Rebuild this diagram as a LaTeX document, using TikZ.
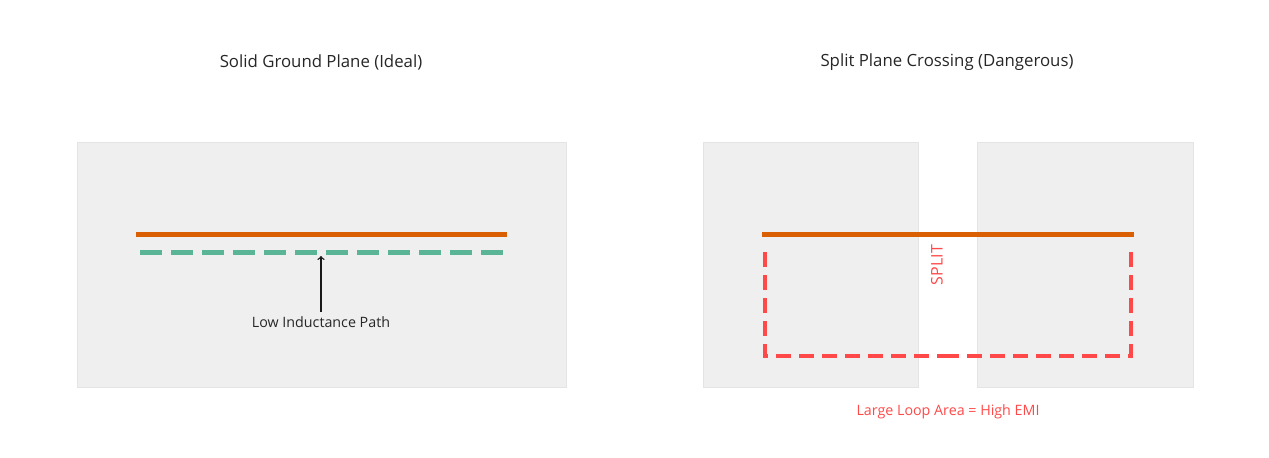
\documentclass[tikz,border=0pt]{standalone}
\usepackage{fontspec}
\setmainfont{Open Sans}
\usetikzlibrary{positioning}
\definecolor{planegray}{HTML}{EFEFEF}
\definecolor{planeedge}{HTML}{E4E4E4}
\definecolor{traceorange}{HTML}{D95F02}
\definecolor{returngreen}{HTML}{5AB596}
\definecolor{loopred}{HTML}{FF4848}
\tikzset{
  plane/.style={fill=planegray, draw=planeedge, line width=0.6pt},
  trace/.style={traceorange, line width=3.75pt},
  goodreturn/.style={returngreen, line width=3.75pt, dash pattern=on 16.5pt off 6.75pt},
  badreturn/.style={loopred, line width=3pt, dash pattern=on 11.25pt off 6pt},
  title/.style={font=\fontsize{12.6}{15}\selectfont, text=black!85},
  note/.style={font=\fontsize{10.7}{13}\selectfont}
}
\begin{document}
\begin{tikzpicture}[x=0.75pt, y=-0.75pt]
        \useasboundingbox (0,0) rectangle (1269,457);
        % left: solid plane
        \node[title] (lefttitle) at (321,62) {Solid Ground Plane (Ideal)};
        \draw[plane] (77,142) rectangle (566,387);
        \draw[trace] (136,234) -- (507,234);
        \draw[goodreturn] (140,252) -- (505,252);
        \coordinate (pathpoint) at (321,256);
        \node[note, text=black!85] (lowlabel) at (321,322) {Low Inductance Path};
        \draw[->, line width=1pt, black!90] (lowlabel.north) -- (pathpoint);

        % right: split plane
        \node[title] (righttitle) at (947,62) {Split Plane Crossing (Dangerous)};
        \draw[plane] (703,142) rectangle (918,387);
        \draw[plane] (977,142) rectangle (1193,387);
        \draw[trace] (762,234) -- (1134,234);
        \draw[badreturn] (765,252) -- (765,356) -- (948,356);
        \draw[badreturn] (1131,252) -- (1131,356) -- (948,356);
        \node[text=loopred, rotate=90, font=\fontsize{12}{14}\selectfont] (splitlabel) at (937,265) {SPLIT};
        \node[note, text=loopred] (looplabel) at (948,412) {Large Loop Area = High EMI};
    \end{tikzpicture}
\end{document}
